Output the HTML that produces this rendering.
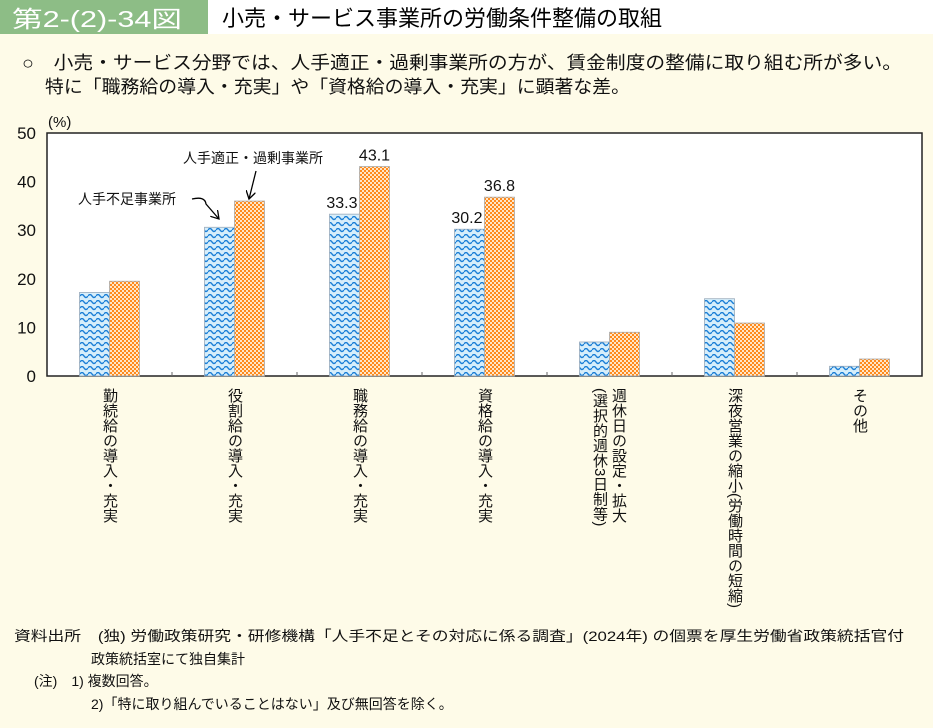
<!DOCTYPE html>
<html><head><meta charset="utf-8"><style>
html,body{margin:0;padding:0;background:#fefbe8;}
svg{display:block;font-family:"Liberation Sans","Noto Sans CJK JP",sans-serif;}
</style></head><body>
<svg id="c" width="933" height="728" viewBox="0 0 933 728" xmlns="http://www.w3.org/2000/svg">
<defs>
<pattern id="wave" patternUnits="userSpaceOnUse" width="8" height="6">
<rect width="8" height="6" fill="#d6eefb"/>
<path d="M0,2 Q2,-1 4,2 T8,2" fill="none" stroke="#1b7fd6" stroke-width="1.4"/>
</pattern>
<pattern id="check" patternUnits="userSpaceOnUse" width="4" height="4">
<rect width="4" height="4" fill="#ff8a1c"/>
<rect x="0" y="0" width="2" height="2" fill="#ffe6c8"/>
<rect x="2" y="2" width="2" height="2" fill="#ffe6c8"/>
</pattern>
<marker id="ah" markerWidth="10" markerHeight="10" refX="8" refY="5" orient="auto" markerUnits="userSpaceOnUse">
<path d="M0,0 L8,5 L0,10" fill="none" stroke="#000" stroke-width="1.3"/>
</marker>
</defs>
<rect x="0" y="0" width="933" height="728" fill="#fefbe8"/>
<rect x="0" y="0" width="208" height="34" fill="#8dbd86"/>
<text x="12" y="27" font-size="23" fill="#fff" textLength="170" lengthAdjust="spacingAndGlyphs">第2-(2)-34図</text>
<rect x="208" y="0" width="725" height="34" fill="#fff"/>
<text x="222" y="26" font-size="22" fill="#000">小売・サービス事業所の労働条件整備の取組</text>
<text x="22" y="69" font-size="18" fill="#111" textLength="880" lengthAdjust="spacingAndGlyphs">○　小売・サービス分野では、人手適正・過剰事業所の方が、賃金制度の整備に取り組む所が多い。</text>
<text x="45" y="93" font-size="18" fill="#111" textLength="585" lengthAdjust="spacingAndGlyphs">特に「職務給の導入・充実」や「資格給の導入・充実」に顕著な差。</text>
<rect x="47" y="133" width="875" height="243" fill="#fff" stroke="#222" stroke-width="1.5"/>
<text x="48" y="127" font-size="15" fill="#111">(%)</text>
<g id="yaxis"></g>
<g id="bars"></g>
<g id="xlabels"></g>
<text x="78" y="204" font-size="14" fill="#111">人手不足事業所</text>
<path d="M192,199 Q205,196 206,204 L219,219" fill="none" stroke="#000" stroke-width="1.3" marker-end="url(#ah)"/>
<text x="183" y="163" font-size="14" fill="#111">人手適正・過剰事業所</text>
<path d="M256,171 L249,199" fill="none" stroke="#000" stroke-width="1.3" marker-end="url(#ah)"/>
<g font-size="14" fill="#111">
<text x="14" y="641" textLength="890" lengthAdjust="spacingAndGlyphs">資料出所　(独) 労働政策研究・研修機構「人手不足とその対応に係る調査」(2024年) の個票を厚生労働省政策統括官付</text>
<text x="91" y="664">政策統括室にて独自集計</text>
<text x="34" y="686">(注)　1) 複数回答。</text>
<text x="91" y="709">2)「特に取り組んでいることはない」及び無回答を除く。</text>
</g>
</svg>
<script>
const categories = ["勤続給の導入・充実","役割給の導入・充実","職務給の導入・充実","資格給の導入・充実",["週休日の設定・拡大","(選択的週休3日制等)"],"深夜営業の縮小(労働時間の短縮)","その他"];
const shortageValues = [17.2, 30.6, 33.3, 30.2, 7.0, 15.9, 2.0];
const adequateValues = [19.5, 36.0, 43.1, 36.8, 9.0, 10.9, 3.5];
const labeledIndex = [2, 3];
const yTicks = [0, 10, 20, 30, 40, 50];

const NS = "http://www.w3.org/2000/svg";
const X0 = 47, X1 = 922, Y0 = 376, Y1 = 133, YMAX = 50;
const bandW = (X1 - X0) / categories.length;
const barW = 30;
function y(v){ return Y0 - (v / YMAX) * (Y0 - Y1); }
function xc(i){ return X0 + bandW * (i + 0.5); }
function mk(tag, attrs, parent){ const e = document.createElementNS(NS, tag); for (const k in attrs) e.setAttribute(k, attrs[k]); parent.appendChild(e); return e; }

const ya = document.getElementById('yaxis');
yTicks.forEach(t => {
  const tx = mk('text', {x: 36, y: y(t) + 6, 'font-size': 17, 'text-anchor': 'end', fill: '#111'}, ya);
  tx.textContent = t;
  
  
});
for (let i = 1; i < categories.length; i++) {
  const l = mk('line', {x1: X0 + bandW * i, x2: X0 + bandW * i, y1: Y0, y2: Y0 - 4, stroke: '#666'}, ya);
  
  
}

const bg = document.getElementById('bars');
categories.forEach((c, i) => {
  const b1 = mk('rect', {x: xc(i) - barW, y: y(shortageValues[i]), width: barW, height: Y0 - y(shortageValues[i]), fill: 'url(#wave)', stroke: '#9ab', 'stroke-width': 0.8}, bg);
  
  
  const b2 = mk('rect', {x: xc(i), y: y(adequateValues[i]), width: barW, height: Y0 - y(adequateValues[i]), fill: 'url(#check)', stroke: '#aaa', 'stroke-width': 0.8}, bg);
  
  
  if (labeledIndex.includes(i)) {
    const t1 = mk('text', {x: xc(i) - 2, y: y(shortageValues[i]) - 6, 'font-size': 16, 'text-anchor': 'end', fill: '#111'}, bg);
    t1.textContent = shortageValues[i].toFixed(1);
    
    
    const t2 = mk('text', {x: xc(i) + barW / 2, y: y(adequateValues[i]) - 6, 'font-size': 16, 'text-anchor': 'middle', fill: '#111'}, bg);
    t2.textContent = adequateValues[i].toFixed(1);
    
    
  }
});

const xl = document.getElementById('xlabels');
categories.forEach((c, i) => {
  const cols = Array.isArray(c) ? c : [c];
  cols.forEach((s, j) => {
    const cx = xc(i) + (cols.length > 1 ? (j === 0 ? 9 : -10) : 0);
    const t = mk('text', {x: cx, y: 388, 'font-size': 15, fill: '#111', style: 'writing-mode:vertical-rl'}, xl);
    t.textContent = s;
    
    
  });
});
</script>
</body></html>
